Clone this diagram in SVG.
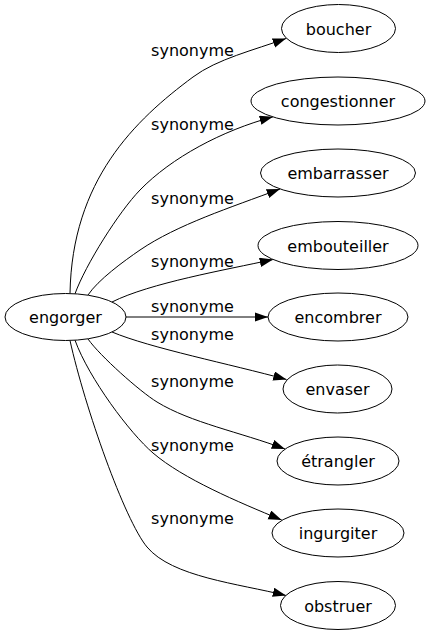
<svg xmlns="http://www.w3.org/2000/svg" width="430" height="635" viewBox="0 0 430 635">
<style>
.node ellipse{fill:#fff;stroke:#000;stroke-width:1}
.node text{font-family:"DejaVu Sans",sans-serif;font-size:16px;fill:#000;text-anchor:middle}
.edge path{fill:none;stroke:#000;stroke-width:1}
.lbl{font-family:"DejaVu Sans",sans-serif;font-size:16px;fill:#000;text-anchor:middle}
</style>
<defs>
<marker id="arr" markerUnits="userSpaceOnUse" markerWidth="14" markerHeight="10" refX="13.3" refY="4.7" orient="auto">
<path d="M0,0 L13.3,4.7 L0,9.4 z" fill="#000"/>
</marker>
</defs>
<rect width="430" height="635" fill="#fff"/>
<g id="edges" class="edge">
<path marker-end="url(#arr)" d="M70,293.5 C72,180 135,120 193,77 C217,59 254.3,50 286,38.5"/>
<path marker-end="url(#arr)" d="M75,293.8 C85.5,264.8 119,211.6 140,190 C171.5,157.6 221.9,130.6 273,116.8"/>
<path marker-end="url(#arr)" d="M88,295 C98,280 123.5,261.3 140,250 C177.2,224.7 230,207.7 280,189"/>
<path marker-end="url(#arr)" d="M112,302 C150,283 225,270 273,259.5"/>
<path marker-end="url(#arr)" d="M126,317 L268,317"/>
<path marker-end="url(#arr)" d="M112,332 C150,348 230,364 286.5,379.5"/>
<path marker-end="url(#arr)" d="M88,339 C100,356 140,391.6 157,402 C191,422.8 239.7,432 285,449"/>
<path marker-end="url(#arr)" d="M75,340.2 C89,378.6 130.2,433.5 153,453 C183.4,479 237.3,501.6 281.7,520"/>
<path marker-end="url(#arr)" d="M70,340.5 C85,408 124.6,520 147,547 C172,577 238,583.5 286,595.5"/>
<text class="lbl" x="192.5" y="56">synonyme</text>
<text class="lbl" x="192.5" y="130">synonyme</text>
<text class="lbl" x="192.5" y="204">synonyme</text>
<text class="lbl" x="192.5" y="267">synonyme</text>
<text class="lbl" x="192.5" y="311.5">synonyme</text>
<text class="lbl" x="192.5" y="340">synonyme</text>
<text class="lbl" x="192.5" y="387">synonyme</text>
<text class="lbl" x="192.5" y="450.5">synonyme</text>
<text class="lbl" x="192.5" y="524">synonyme</text>
</g>
<g id="engorger" class="node"><ellipse cx="65.5" cy="317" rx="60.5" ry="23.5"/><text x="65.5" y="323">engorger</text></g>
<g id="boucher" class="node"><ellipse cx="338.5" cy="28.5" rx="57" ry="24"/><text x="338.5" y="34.5">boucher</text></g>
<g id="congestionner" class="node"><ellipse cx="338" cy="101" rx="87" ry="24"/><text x="338" y="107">congestionner</text></g>
<g id="embarrasser" class="node"><ellipse cx="338" cy="173" rx="77.5" ry="24"/><text x="338" y="179">embarrasser</text></g>
<g id="embouteiller" class="node"><ellipse cx="338" cy="245.5" rx="80" ry="24"/><text x="338" y="251.5">embouteiller</text></g>
<g id="encombrer" class="node"><ellipse cx="338" cy="317" rx="70" ry="24"/><text x="338" y="323">encombrer</text></g>
<g id="envaser" class="node"><ellipse cx="337.5" cy="389" rx="54.5" ry="24"/><text x="337.5" y="395">envaser</text></g>
<g id="etrangler" class="node"><ellipse cx="338" cy="461" rx="61" ry="24"/><text x="338" y="467">étrangler</text></g>
<g id="ingurgiter" class="node"><ellipse cx="338" cy="533" rx="66" ry="24"/><text x="338" y="539">ingurgiter</text></g>
<g id="obstruer" class="node"><ellipse cx="338" cy="605.5" rx="57.5" ry="24"/><text x="338" y="611.5">obstruer</text></g>
</svg>
